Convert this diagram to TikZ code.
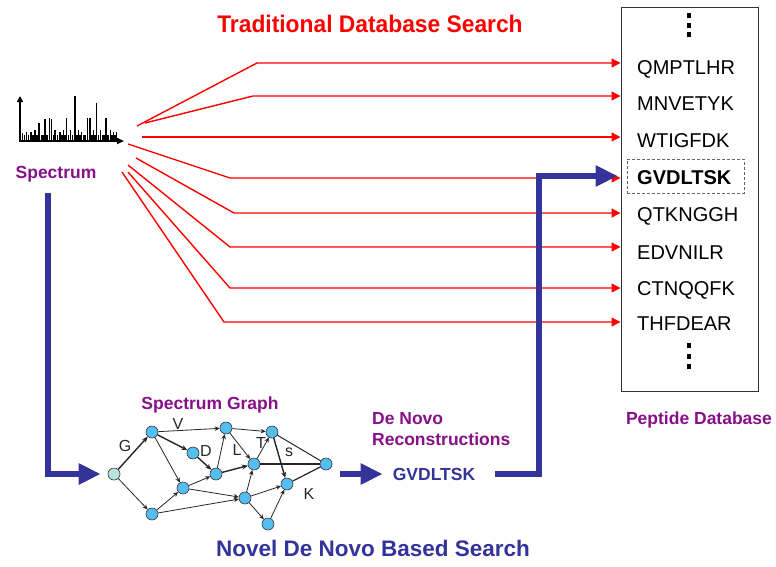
\documentclass[tikz,border=0pt]{standalone}
\usepackage{fontspec}
\setmainfont{Liberation Sans}
\usetikzlibrary{arrows.meta}
\definecolor{redl}{RGB}{255,0,0}
\definecolor{blued}{RGB}{51,51,153}
\definecolor{purp}{RGB}{135,15,135}
\definecolor{nodeb}{RGB}{85,190,240}
\definecolor{nodec}{RGB}{185,225,225}
\definecolor{lbl}{RGB}{40,40,40}
\begin{document}
\begin{tikzpicture}[x=1pt,y=-1pt,
  redarrow/.style={draw=redl,line width=1.4pt,-{Triangle[length=9pt,width=9pt]}},
  bluearrow/.style={draw=blued,line width=6pt,line join=miter,-{Triangle[length=22pt,width=20pt]}},
  entry/.style={anchor=base west,inner sep=0pt,font=\fontsize{20}{20}\selectfont},
  purplabel/.style={text=purp,font=\fontsize{17.5}{21}\selectfont\bfseries,inner sep=0pt},
  gnode/.style={circle,draw=black!80,line width=0.6pt,fill=nodeb,minimum size=12pt,inner sep=0pt},
  gedge/.style={draw=black!85,line width=0.8pt,-{Stealth[length=5pt,width=4.5pt]}},
  gthick/.style={draw=black!85,line width=1.4pt,-{Stealth[length=6pt,width=5pt]}},
  glabel/.style={text=lbl,font=\fontsize{16}{16}\selectfont,inner sep=0pt},
  dbdot/.style={fill=black,minimum width=4pt,minimum height=5pt,inner sep=0pt}
]
\useasboundingbox (0,0) rectangle (776,566);

% Titles
\node[text=redl,font=\fontsize{24}{24}\selectfont\bfseries,inner sep=0pt] (title) at (370,24) {\scalebox{0.95}[1]{Traditional Database Search}};
\node[text=blued,font=\fontsize{22.5}{24}\selectfont\bfseries,inner sep=0pt] (title2) at (373,548) {Novel De Novo Based Search};

% Spectrum plot
\draw[line width=1.6pt,-{Triangle[length=6pt,width=6pt]}] (20,141) -- (20,96);
\draw[line width=1.6pt,-{Triangle[length=7pt,width=6pt]}] (19,141) -- (124,141);
\foreach \x/\t in {22.7/133.3,26.7/131.7,31/131.7,35/130,39/123.3,45/119.3,49.3/117.7,51.7/119.3,55/130,60/131.7,63.3/130,66.7/117.7,70.7/130,75/95.7,78.3/130,81.7/131.7,87.3/117.7,90/117.7,93.3/130,96.7/102.7,100.7/130,106/117.7,110.7/130,113.3/131.7,116.7/131.7}
  \draw[line width=1.4pt] (\x,141) -- (\x,\t);
\foreach \x in {24.5,28.5,33,37,41.5,43,47,53.5,57.5,62,65,68.7,72.7,77,80,84,85.5,92,95,98.7,103,104.5,108,112,115}
  \draw[line width=1.1pt] (\x,141) -- (\x,135);

\node[purplabel] (spec) at (56,174) {Spectrum};

% Database
\node[draw=black!80,line width=1pt,minimum width=137pt,minimum height=384pt,inner sep=0pt] (db) at (689.5,199) {};
\node[dbdot] (d1) at (689,15) {};
\node[dbdot] (d2) at (689,25) {};
\node[dbdot] (d3) at (689,34) {};
\node[dbdot] (d4) at (689,345) {};
\node[dbdot] (d5) at (689,356) {};
\node[dbdot] (d6) at (689,366) {};
\node[entry] (e1) at (637,74) {QMPTLHR};
\node[entry] (e2) at (637,110) {MNVETYK};
\node[entry] (e3) at (637,147) {WTIGFDK};
\node[entry,font=\fontsize{20}{20}\selectfont\bfseries] (e4) at (637,184.5) {GVDLTSK};
\node[entry] (e5) at (637,221) {QTKNGGH};
\node[entry] (e6) at (637,259) {EDVNILR};
\node[entry] (e7) at (637,295) {CTNQQFK};
\node[entry] (e8) at (637,330) {THFDEAR};
\node[draw=black!60,densely dashed,line width=0.7pt,minimum width=117pt,minimum height=34pt,inner sep=0pt] (hl) at (685.5,176) {};
\node[purplabel] (pdb) at (699,420) {Peptide Database};

% Red connectors
\coordinate (s1) at (137,126); \coordinate (b1) at (257,63);
\coordinate (s2) at (145,123); \coordinate (b2) at (253,96);
\coordinate (s3) at (142,137);
\coordinate (s4) at (128,144); \coordinate (b4) at (230,178);
\coordinate (s5) at (136,158); \coordinate (b5) at (234,213);
\coordinate (s6) at (128,165); \coordinate (b6) at (230,247);
\coordinate (s7) at (128,172); \coordinate (b7) at (230,288);
\coordinate (s8) at (122,172); \coordinate (b8) at (224,322);
\draw[redarrow] (s1) -- (b1) -- (db.west |- b1);
\draw[redarrow] (s2) -- (b2) -- (db.west |- b2);
\draw[redarrow] (s3) -- (db.west |- s3);
\draw[redarrow] (s4) -- (b4) -- (db.west |- b4);
\draw[redarrow] (s5) -- (b5) -- (db.west |- b5);
\draw[redarrow] (s6) -- (b6) -- (db.west |- b6);
\draw[redarrow] (s7) -- (b7) -- (db.west |- b7);
\draw[redarrow] (s8) -- (b8) -- (db.west |- b8);

% Spectrum graph
\node[purplabel] (sg) at (210,405) {Spectrum Graph};
\node[gnode,fill=nodec] (n0) at (114,474) {};
\node[gnode] (n1) at (152,432) {};
\node[gnode] (n2) at (193,453) {};
\node[gnode] (n3) at (226,428) {};
\node[gnode] (n4) at (216,474) {};
\node[gnode] (n5) at (254,464) {};
\node[gnode] (n6) at (272,432) {};
\node[gnode] (n7) at (326,464) {};
\node[gnode] (n8) at (183,488) {};
\node[gnode] (n9) at (287,484) {};
\node[gnode] (n10) at (245,498) {};
\node[gnode] (n11) at (152,514) {};
\node[gnode] (n12) at (268,524) {};

\draw[gthick] (n0) -- (n1);
\draw[gedge] (n0) -- (n11);
\draw[gedge] (n1) -- (n3);
\draw[gthick] (n1) -- (n2);
\draw[gedge] (n1) -- (n8);
\draw[gthick] (n2) -- (n4);
\draw[gedge] (n4) -- (n3);
\draw[gedge] (n3) -- (n5);
\draw[gedge] (n3) -- (n6);
\draw[gthick] (n4) -- (n5);
\draw[gedge] (n8) -- (n4);
\draw[gedge] (n8) -- (n10);
\draw[gedge] (n11) -- (n8);
\draw[gedge] (n11) -- (n10);
\draw[gedge] (n10) -- (n5);
\draw[gedge] (n10) -- (n12);
\draw[gedge] (n10) -- (n9);
\draw[gedge] (n12) -- (n9);
\draw[gedge] (n5) -- (n6);
\draw[draw=black!85,line width=1.2pt] (n5) -- (n7);
\draw[draw=black!85,line width=1pt] (n6) -- (n7);
\draw[gthick] (n6) -- (n9);
\draw[draw=black!85,line width=1.2pt] (n9) -- (n7);

\node[glabel] (lG) at (125,446) {G};
\node[glabel] (lV) at (178,424) {V};
\node[glabel] (lD) at (206,451) {D};
\node[glabel] (lL) at (237,450) {L};
\node[glabel] (lT) at (261,443) {T};
\node[glabel] (ls) at (289,452) {s};
\node[glabel] (lK) at (309,494) {K};

% De novo
\node[purplabel,anchor=west,align=left] (dn) at (372,429.5) {De Novo\\Reconstructions};
\node[text=blued,font=\fontsize{17.5}{21}\selectfont\bfseries,inner sep=0pt] (gv) at (434,474) {GVDLTSK};

% Blue arrows
\coordinate (c1) at (48,193);
\draw[bluearrow] (c1) |- ([xshift=-7pt]n0.west);
\coordinate (a1) at (340,474);
\draw[bluearrow] (a1) -- ([xshift=-10pt]gv.west);
\draw[bluearrow] ([xshift=20pt]gv.east) -| (539,176) -- ([xshift=-9pt]hl.west);
\end{tikzpicture}
\end{document}
